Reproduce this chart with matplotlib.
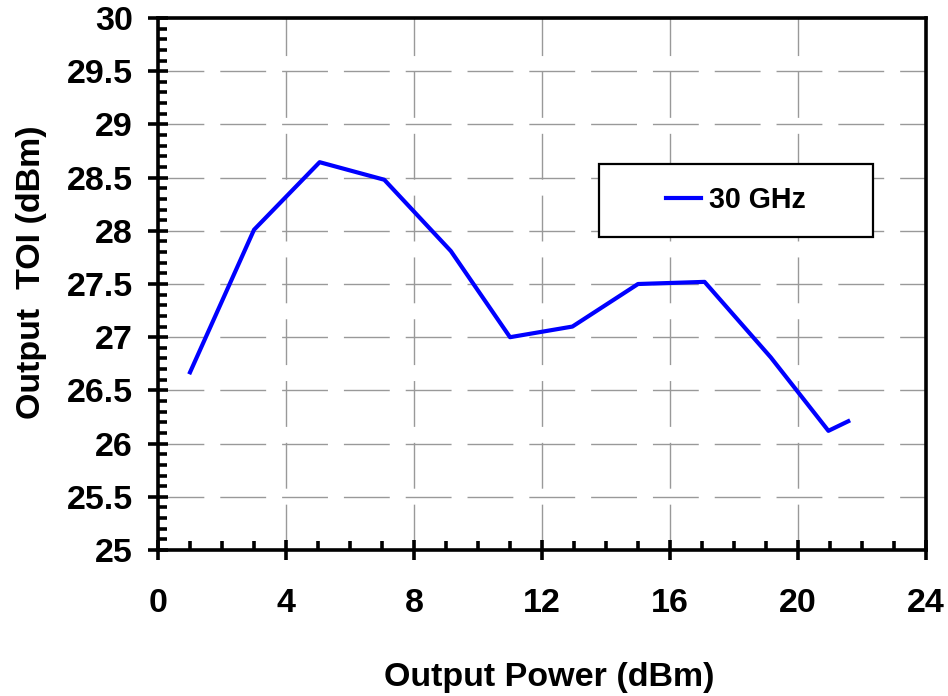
import matplotlib
matplotlib.use("Agg")
import matplotlib.pyplot as plt
from matplotlib.ticker import MultipleLocator, FuncFormatter
from matplotlib.patches import Rectangle

output_power = [1.0, 3.0, 5.05, 7.07, 9.15, 11.0, 12.95, 15.0, 17.08, 19.15, 20.95, 21.57]
output_toi = [26.67, 28.01, 28.645, 28.48, 27.81, 27.0, 27.10, 27.50, 27.52, 26.81, 26.12, 26.21]
series_name = "30 GHz"

plt.rcParams['font.family'] = ['Liberation Sans', 'DejaVu Sans']
plt.rcParams['font.weight'] = 'bold'

fig = plt.figure(figsize=(9.48, 6.96), dpi=100)
ax = fig.add_axes([0.1667, 0.2098, 0.8101, 0.7643])

line, = ax.plot(output_power, output_toi, color="#0000ff", lw=3.0, zorder=3,
                label=series_name)

ax.set_xlim(0, 24)
ax.set_ylim(25, 30)
ax.xaxis.set_major_locator(MultipleLocator(4))
ax.xaxis.set_minor_locator(MultipleLocator(1))
ax.yaxis.set_major_locator(MultipleLocator(0.5))
ax.yaxis.set_minor_locator(MultipleLocator(0.1))
ax.yaxis.set_major_formatter(FuncFormatter(lambda v, p: "%g" % v))

ax.grid(True, which="major", color="#999999", lw=1.0,
        linestyle=(0, (33, 11.5)), zorder=1)
ax.set_axisbelow(True)

for s in ax.spines.values():
    s.set_linewidth(2.6)
    s.set_color("black")

ax.tick_params(which="major", direction="inout", length=15, width=2.6,
               labelsize=24.5, top=False, right=False)
ax.tick_params(axis="y", which="major", pad=10.5)
ax.tick_params(axis="x", which="major", pad=20)
ax.tick_params(which="minor", direction="in", length=6.5, width=2.6,
               top=False, right=False)
for lab in ax.get_xticklabels() + ax.get_yticklabels():
    lab.set_fontweight("bold")

ax.set_xlabel("Output Power (dBm)", fontsize=24.5, fontweight="bold")
ax.set_ylabel("Output  TOI (dBm)", fontsize=24.5, fontweight="bold")
ax.xaxis.set_label_coords(0.51, -0.211)
ax.yaxis.set_label_coords(-0.145, 0.523)

# legend box
box = Rectangle((0.574, 0.588), 0.357, 0.137, transform=ax.transAxes,
                facecolor="white", edgecolor="black", lw=1.6, zorder=4)
ax.add_patch(box)
leg = ax.legend(loc="center", bbox_to_anchor=(0.7526, 0.657), frameon=False,
                handlelength=1.2, handletextpad=0.3,
                prop={"size": 20.6, "weight": "bold"})
leg.set_zorder(5)

fig.savefig("out.png", dpi=100)
